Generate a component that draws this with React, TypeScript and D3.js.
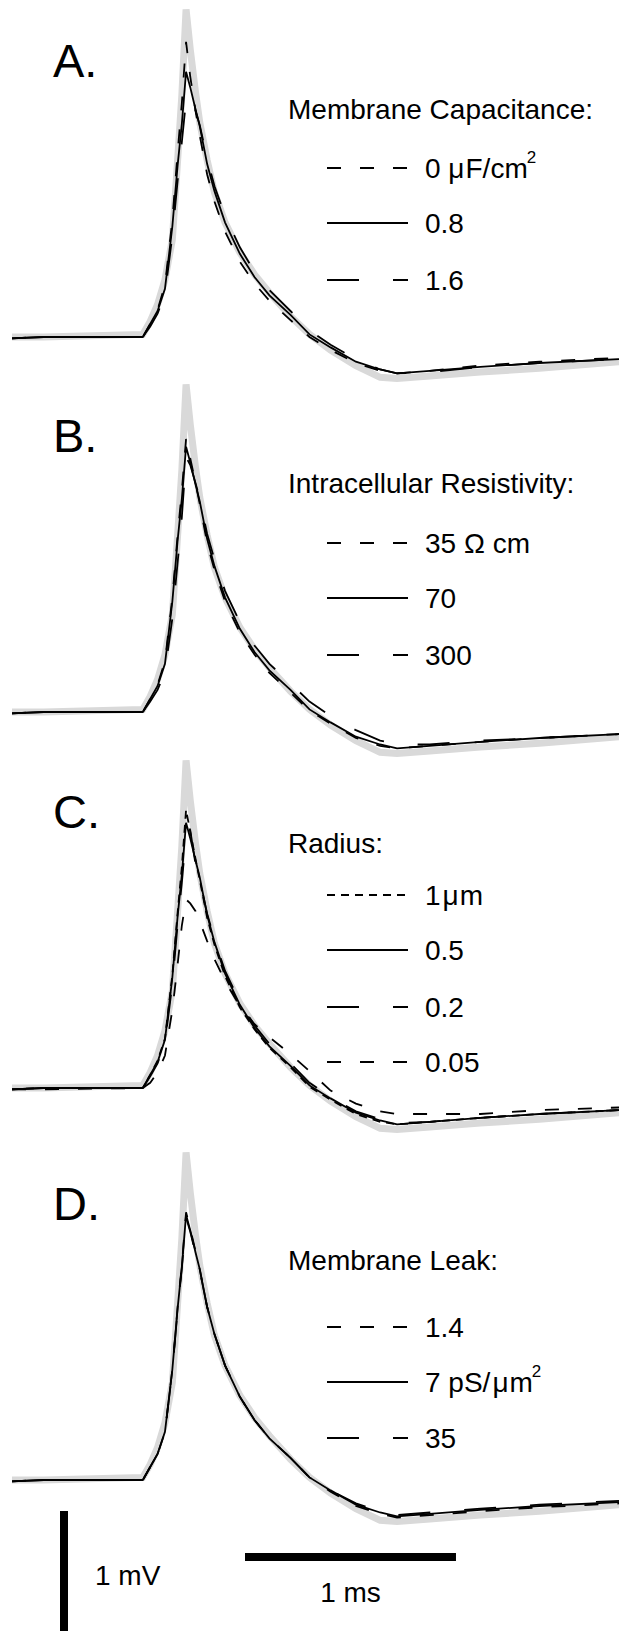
import React from "react";
import * as d3 from "d3";

const WIDTH = 619;
const HEIGHT = 1631;
const FONT = "'Liberation Sans', Arial, Helvetica, sans-serif";

// sample times (ms), shared by every trace
const times = [
  0, 0.15, 0.62, 0.655, 0.69, 0.725, 0.76, 0.785, 0.805, 0.825, 0.845, 0.87,
  0.89, 0.925, 0.96, 1.01, 1.08, 1.15, 1.22, 1.32, 1.41, 1.51, 1.63, 1.745,
  1.825, 1.98, 2.22, 2.5, 2.877,
];

// recorded spike (grey), mV from rest
const recorded = [
  0, 0, 0.02, 0.12, 0.25, 0.44, 0.75, 1.36, 1.86, 2.52, 2.21, 1.88, 1.65, 1.36,
  1.11, 0.88, 0.65, 0.48, 0.34, 0.16, 0.02, -0.1, -0.22, -0.31, -0.32, -0.3,
  -0.27, -0.24, -0.19,
];

// control model (solid line in every panel)
const model = [
  -0.01, 0, 0, 0.1, 0.2, 0.37, 0.85, 1.32, 1.64, 2.04, 1.92, 1.75, 1.62, 1.33,
  1.12, 0.88, 0.64, 0.46, 0.32, 0.17, 0.02, -0.08, -0.19, -0.25, -0.28, -0.26,
  -0.23, -0.2, -0.17,
];

// A. membrane capacitance
const capZero = [
  -0.01, 0, 0, 0.1, 0.21, 0.4, 0.9, 1.42, 1.8, 2.27, 2.0, 1.74, 1.55, 1.25,
  1.04, 0.81, 0.58, 0.41, 0.28, 0.13, 0.0, -0.1, -0.2, -0.26, -0.28, -0.26,
  -0.22, -0.19, -0.16,
];
const capHigh = [
  -0.01, 0, 0, 0.08, 0.18, 0.33, 0.78, 1.2, 1.5, 1.82, 1.86, 1.74, 1.63, 1.37,
  1.16, 0.93, 0.69, 0.5, 0.36, 0.2, 0.05, -0.06, -0.17, -0.25, -0.28, -0.27,
  -0.23, -0.2, -0.17,
];

// B. intracellular resistivity
const resLow = [
  -0.01, 0, 0, 0.1, 0.21, 0.39, 0.88, 1.36, 1.7, 2.1, 1.95, 1.76, 1.6, 1.3,
  1.09, 0.85, 0.61, 0.44, 0.3, 0.15, 0.01, -0.09, -0.2, -0.26, -0.28, -0.26,
  -0.23, -0.2, -0.17,
];
const resHigh = [
  -0.01, 0, 0, 0.08, 0.17, 0.31, 0.72, 1.15, 1.5, 1.96, 1.9, 1.76, 1.64, 1.37,
  1.17, 0.93, 0.69, 0.51, 0.37, 0.22, 0.08, -0.03, -0.14, -0.22, -0.25, -0.25,
  -0.22, -0.2, -0.17,
];

// C. radius
const rad1 = [
  -0.01, 0, 0, 0.1, 0.21, 0.38, 0.87, 1.35, 1.7, 2.14, 1.97, 1.76, 1.6, 1.31,
  1.1, 0.86, 0.62, 0.45, 0.31, 0.16, 0.01, -0.09, -0.2, -0.26, -0.28, -0.26,
  -0.23, -0.2, -0.17,
];
const rad02 = [
  -0.01, 0, 0, 0.09, 0.19, 0.35, 0.8, 1.26, 1.58, 1.95, 1.98, 1.72, 1.6, 1.34,
  1.14, 0.9, 0.66, 0.48, 0.34, 0.19, 0.04, -0.07, -0.18, -0.24, -0.27, -0.26,
  -0.23, -0.2, -0.17,
];
const rad005 = [
  -0.01, -0.01, 0, 0.04, 0.12, 0.25, 0.6, 0.95, 1.25, 1.45, 1.42, 1.36, 1.28,
  1.13, 0.99, 0.82, 0.63, 0.49, 0.39, 0.26, 0.13, -0.02, -0.12, -0.18, -0.2,
  -0.2, -0.2, -0.17, -0.15,
];

// D. membrane leak
const leakLow = [
  -0.01, 0, 0, 0.1, 0.2, 0.37, 0.85, 1.33, 1.65, 2.06, 1.93, 1.76, 1.62, 1.33,
  1.12, 0.88, 0.64, 0.46, 0.32, 0.17, 0.02, -0.09, -0.2, -0.26, -0.29, -0.27,
  -0.24, -0.21, -0.18,
];
const leakHigh = [
  -0.01, 0, 0, 0.1, 0.2, 0.37, 0.84, 1.31, 1.63, 2.02, 1.91, 1.74, 1.61, 1.33,
  1.12, 0.88, 0.64, 0.46, 0.32, 0.17, 0.02, -0.08, -0.18, -0.24, -0.27, -0.25,
  -0.22, -0.19, -0.16,
];

const SHORT = "14,19";
const LONG = "32,34";
const FINE = "8,6";

const panelLabels = ["A.", "B.", "C.", "D."];
const panelTitles = [
  "Membrane Capacitance:",
  "Intracellular Resistivity:",
  "Radius:",
  "Membrane Leak:",
];
// "^" marks a superscript
const legendLabels = [
  ["0 μF/cm^2", "0.8", "1.6"],
  ["35 Ω cm", "70", "300"],
  ["1μm", "0.5", "0.2", "0.05"],
  ["1.4", "7 pS/μm^2", "35"],
];
const panelSeries = [
  [capZero, model, capHigh],
  [resLow, model, resHigh],
  [rad1, model, rad02, rad005],
  [leakLow, model, leakHigh],
];
const panelDashes = [
  [SHORT, null, LONG],
  [SHORT, null, LONG],
  [FINE, null, LONG, SHORT],
  [SHORT, null, LONG],
];

// layout
const BASELINES = [337, 712, 1088, 1480];
const TITLE_DY = [-218, -219, -235, -210];
const ROW_DY = [
  [-169, -114, -57],
  [-169, -114, -57],
  [-193, -138, -81, -26],
  [-153, -98, -42],
];
const MV_PX = 130;
const FS = 28;

function Label({ text, x, y }: { text: string; x: number; y: number }) {
  const [main, sup] = text.split("^");
  const parts = main.split("μ");
  return (
    <text x={x} y={y} fontSize={FS} fontFamily={FONT} fill="#000">
      {parts[0]}
      {parts.length > 1 && <tspan dx={parts[0].endsWith(" ") ? 0 : 2}>μ</tspan>}
      {parts.length > 1 && <tspan dx={1}>{parts[1]}</tspan>}
      {sup && (
        <tspan dy={-15} dx={-1} fontSize={17}>
          {sup}
        </tspan>
      )}
    </text>
  );
}

export default function App() {
  const xScale = d3.scaleLinear().domain([0, 2.877]).range([12, 619]);

  const panels = BASELINES.map((base, p) => {
    const yScale = d3.scaleLinear().domain([0, 1]).range([base, base - MV_PX]);
    const line = d3
      .line<number>()
      .x((_, i) => xScale(times[i]))
      .y((d) => yScale(d));

    return (
      <g key={p}>
        <path
          d={line(recorded) || ""}
          fill="none"
          stroke="#d9d9d9"
          strokeWidth={7}
        />
        {panelSeries[p].map((vals, i) => (
          <path
            key={i}
            d={line(vals) || ""}
            fill="none"
            stroke="#000"
            strokeWidth={1.8}
            strokeDasharray={panelDashes[p][i] || undefined}
          />
        ))}
        <text
          x={53}
          y={base - 260}
          fontSize={47}
          fontFamily={FONT}
          fill="#000"
        >
          {panelLabels[p]}
        </text>
        <text
          x={288}
          y={base + TITLE_DY[p]}
          fontSize={FS}
          fontFamily={FONT}
          fill="#000"
        >
          {panelTitles[p]}
        </text>
        {legendLabels[p].map((lab, i) => {
          const ly = base + ROW_DY[p][i];
          return (
            <g key={lab}>
              <line
                x1={327}
                x2={408}
                y1={ly}
                y2={ly}
                stroke="#000"
                strokeWidth={1.8}
                strokeDasharray={panelDashes[p][i] || undefined}
              />
              <Label text={lab} x={425} y={ly + 10} />
            </g>
          );
        })}
      </g>
    );
  });

  // scale bars: 1 ms and 1 mV
  const msLen = xScale(1) - xScale(0);
  const barX = 245;
  const barY = 1557;
  const vBarX = 64;
  const vBarTop = 1511;

  return (
    <svg
      width={WIDTH}
      height={HEIGHT}
      style={{ position: "absolute", left: 0, top: 0, background: "#fff" }}
    >
      <rect width={WIDTH} height={HEIGHT} fill="#fff" />
      {panels}
      <line
        x1={barX}
        x2={barX + msLen}
        y1={barY}
        y2={barY}
        stroke="#000"
        strokeWidth={8}
      />
      <text
        x={barX + msLen / 2}
        y={1602}
        textAnchor="middle"
        fontSize={FS}
        fontFamily={FONT}
      >
        1 ms
      </text>
      <line
        x1={vBarX}
        x2={vBarX}
        y1={vBarTop}
        y2={vBarTop + MV_PX}
        stroke="#000"
        strokeWidth={8}
      />
      <text x={95} y={1585} fontSize={FS} fontFamily={FONT}>
        1 mV
      </text>
    </svg>
  );
}
